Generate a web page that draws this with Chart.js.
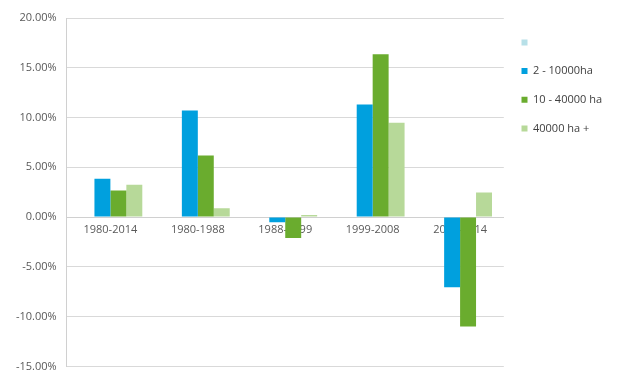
<!DOCTYPE html>
<html>
<head>
<meta charset="utf-8">
<script src="https://cdn.jsdelivr.net/npm/chart.js@4/dist/chart.umd.min.js"></script>
<style>
  html, body { margin: 0; padding: 0; background: #fff; }
  #wrap { width: 622px; height: 383px; }
</style>
</head>
<body>
<div id="wrap"><canvas id="grafico"></canvas></div>
<script>
  const periodos = ['1980-2014', '1980-1988', '1988-1999', '1999-2008', '2008-2014'];
  const serieVazia = [null, null, null, null, null];
  const ha2a10000 = [3.84, 10.7, -0.52, 11.3, -7.06];
  const ha10a40000 = [2.67, 6.19, -2.09, 16.35, -10.99];
  const ha40000mais = [3.24, 0.89, 0.22, 9.48, 2.46];
  const ticksY = [-15, -10, -5, 0, 5, 10, 15, 20];

  const fonte = { family: 'Open Sans', size: 11 };

  new Chart(document.getElementById('grafico'), {
    type: 'bar',
    data: {
      labels: periodos,
      datasets: [
        { label: '', data: serieVazia, backgroundColor: 'rgb(183, 224, 232)' },
        { label: '2 - 10000ha', data: ha2a10000, backgroundColor: 'rgb(0, 160, 222)' },
        { label: '10 - 40000 ha', data: ha10a40000, backgroundColor: 'rgb(106, 172, 46)' },
        { label: '40000 ha +', data: ha40000mais, backgroundColor: 'rgb(183, 217, 153)' }
      ]
    },
    options: {
      responsive: true,
      maintainAspectRatio: false,
      animation: false,
      datasets: { bar: { categoryPercentage: 0.73, barPercentage: 1 } },
      layout: { padding: { top: 18, bottom: 11, left: 6, right: 10 } },
      plugins: {
        tooltip: { enabled: false },
        legend: {
          position: 'right',
          align: 'start',
          title: { display: true, text: '', font: { size: 1 }, padding: 0 },
          labels: {
            boxWidth: 6,
            boxHeight: 6,
            padding: 17.7,
            color: '#404040',
            font: fonte
          }
        }
      },
      scales: {
        x: {
          position: { y: 0 },
          grid: { display: false, drawTicks: false },
          border: { display: true, color: '#d0d0d0' },
          ticks: { color: '#595959', font: fonte, padding: 6, maxRotation: 0 }
        },
        y: {
          min: -15,
          max: 20,
          afterBuildTicks: (eixo) => { eixo.ticks = ticksY.map(v => ({ value: v })); },
          grid: { color: '#d9d9d9', drawTicks: false },
          border: { display: true, color: '#d0d0d0' },
          ticks: {
            color: '#595959',
            font: fonte,
            padding: 10,
            callback: (v) => v.toFixed(2) + '%'
          }
        }
      }
    }
  });
</script>
</body>
</html>
